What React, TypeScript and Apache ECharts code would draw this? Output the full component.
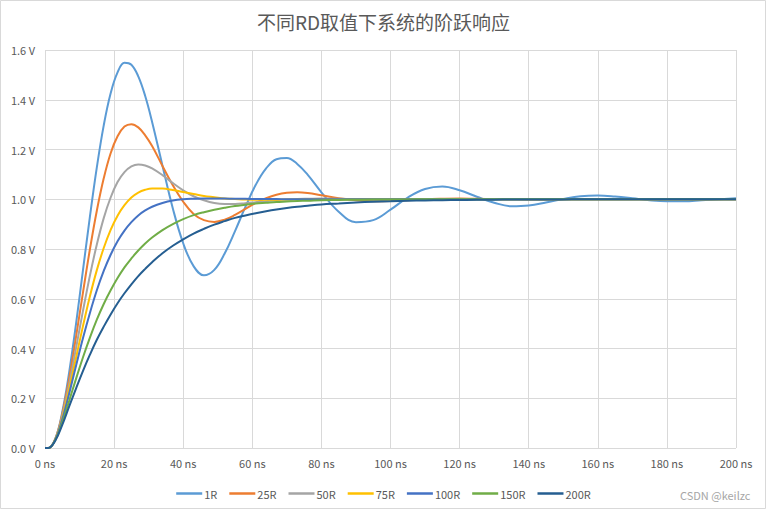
import React, { useEffect, useRef } from 'react';
import * as echarts from 'echarts';

const timesNs = [0, 1, 3, 5, 7, 9, 11, 13, 15, 17, 19, 21, 23, 25, 27, 29, 31, 34, 37, 40, 43, 46, 49, 52, 55, 58, 61, 64, 67, 70, 73, 76, 80, 85, 90, 95, 100, 105, 110, 115, 120, 125, 130, 135, 140, 145, 150, 155, 160, 165, 170, 175, 180, 185, 190, 195, 200];

const seriesNames = ['1R', '25R', '50R', '75R', '100R', '150R', '200R'];

const r1 = [0, 0, 0.038, 0.145, 0.305, 0.501, 0.716, 0.930, 1.128, 1.297, 1.426, 1.510, 1.549, 1.541, 1.494, 1.415, 1.311,
  1.135, 0.963, 0.823, 0.731, 0.694, 0.716, 0.782, 0.872, 0.969, 1.058, 1.124, 1.161, 1.166, 1.142, 1.099,
  1.028,
  0.950, 0.908, 0.916, 0.958, 1.007, 1.041, 1.051, 1.036, 1.010, 0.986, 0.972, 0.975, 0.987, 1.001, 1.012, 1.015, 1.011, 1.004, 0.996, 0.992, 0.992, 0.996, 1.000, 1.004];

const r25 = [0, 0, 0.037, 0.137, 0.280, 0.449, 0.626, 0.799, 0.954, 1.084, 1.185, 1.253, 1.292, 1.302, 1.289, 1.257, 1.214,
  1.134, 1.056, 0.990, 0.941, 0.916, 0.909, 0.918, 0.937, 0.961, 0.985, 1.004, 1.018, 1.026, 1.028, 1.025,
  1.016,
  1.004, 0.996, 0.992, 0.993, 0.996, 1.000, 1.002, 1.003, 1.002, 1.001, 1.000, 0.999, 0.999, 1.000, 1, 1, 1, 1, 1, 1, 1, 1, 1, 1];

const r50 = [0, 0, 0.036, 0.129, 0.257, 0.403, 0.552, 0.693, 0.818, 0.924, 1.007, 1.069, 1.109, 1.132, 1.140, 1.136, 1.124,
  1.097, 1.065, 1.036, 1.012, 0.996, 0.985, 0.981, 0.981, 0.984, 0.988, 0.992, 0.996, 0.999, 1.001, 1.002,
  1.003,
  1.002, 1.001, 1.000, 1.000, 1, 1, 1, 1, 1, 1, 1, 1, 1, 1, 1, 1, 1, 1, 1, 1, 1, 1, 1, 1];

const r75 = [0, 0, 0.035, 0.121, 0.237, 0.364, 0.491, 0.610, 0.715, 0.804, 0.877, 0.934, 0.976, 1.007, 1.027, 1.038, 1.043,
  1.043, 1.037, 1.029, 1.021, 1.013, 1.008, 1.003, 1.001, 0.999, 0.998, 0.998, 0.998, 0.999, 0.999, 0.999,
  1.000,
  1, 1, 1, 1, 1, 1, 1, 1, 1, 1, 1, 1, 1, 1, 1, 1, 1, 1, 1, 1, 1, 1, 1, 1];

const r100 = [0, 0, 0.034, 0.115, 0.219, 0.332, 0.442, 0.543, 0.634, 0.712, 0.777, 0.831, 0.874, 0.908, 0.935, 0.955, 0.970,
  0.985, 0.995, 1.000, 1.002, 1.003, 1.003, 1.003, 1.002, 1.002, 1.001, 1.001, 1.001, 1.000, 1.000, 1.000,
  1.000,
  1, 1, 1, 1, 1, 1, 1, 1, 1, 1, 1, 1, 1, 1, 1, 1, 1, 1, 1, 1, 1, 1, 1, 1];

const r150 = [0, 0, 0.032, 0.103, 0.190, 0.279, 0.365, 0.444, 0.516, 0.579, 0.634, 0.683, 0.726, 0.762, 0.794, 0.822, 0.846,
  0.876, 0.900, 0.920, 0.936, 0.948, 0.958, 0.966, 0.973, 0.978, 0.983, 0.986, 0.989, 0.991, 0.993, 0.994,
  0.996,
  0.997, 0.998, 0.999, 0.999, 0.999, 1, 1, 1, 1, 1, 1, 1, 1, 1, 1, 1, 1, 1, 1, 1, 1, 1, 1, 1];

const r200 = [0, 0, 0.030, 0.093, 0.167, 0.240, 0.310, 0.375, 0.435, 0.488, 0.537, 0.582, 0.622, 0.658, 0.691, 0.720, 0.747,
  0.783, 0.813, 0.839, 0.862, 0.881, 0.898, 0.912, 0.925, 0.935, 0.944, 0.952, 0.959, 0.965, 0.970, 0.974,
  0.979,
  0.983, 0.987, 0.990, 0.992, 0.994, 0.995, 0.996, 0.997, 0.998, 0.998, 0.999, 0.999, 0.999, 0.999, 1, 1, 1, 1, 1, 1, 1, 1, 1, 1];

const seriesColors = ['#5B9BD5', '#ED7D31', '#A5A5A5', '#FFC000', '#4472C4', '#70AD47', '#255E91'];

const FONT = '"Noto Sans CJK SC", "Noto Sans", sans-serif';

export default function App() {
  const ref = useRef<HTMLDivElement>(null);

  useEffect(() => {
    if (!ref.current) return;
    const chart = echarts.init(ref.current, null, { renderer: 'svg' });
    const allData = [r1, r25, r50, r75, r100, r150, r200];

    chart.setOption({
      animation: false,
      backgroundColor: '#ffffff',
      textStyle: { fontFamily: FONT },
      title: {
        text: '不同RD取值下系统的阶跃响应',
        left: 'center',
        top: 12,
        padding: 0,
        textStyle: { fontFamily: FONT, fontSize: 19, fontWeight: 'normal', color: '#595959' },
      },
      grid: { left: 45, right: 31, top: 50, bottom: 62, containLabel: false },
      xAxis: {
        type: 'value',
        min: 0,
        max: 200,
        interval: 20,
        axisLine: { show: false },
        axisTick: { show: false },
        axisLabel: {
          formatter: (v: number) => `${v} ns`,
          color: '#595959',
          fontSize: 11,
          margin: 9,
          fontFamily: FONT,
        },
        splitLine: { show: true, lineStyle: { color: '#d9d9d9', width: 1 } },
      },
      yAxis: {
        type: 'value',
        min: 0,
        max: 1.6,
        interval: 0.2,
        axisLine: { show: false },
        axisTick: { show: false },
        axisLabel: {
          formatter: (v: number) => `${v.toFixed(1)} V`,
          color: '#595959',
          fontSize: 11,
          margin: 10,
          fontFamily: FONT,
        },
        splitLine: { show: true, lineStyle: { color: '#d9d9d9', width: 1 } },
      },
      legend: {
        data: seriesNames,
        icon: 'rect',
        left: 'center',
        top: 483,
        itemWidth: 26,
        itemHeight: 2.5,
        itemGap: 12,
        textStyle: { color: '#595959', fontSize: 11, fontFamily: FONT, padding: [0, 0, 0, -3] },
      },
      graphic: [
        {
          type: 'rect',
          shape: { x: 0.5, y: 0.5, width: 765, height: 508 },
          style: { fill: 'none', stroke: '#d9d9d9', lineWidth: 1 },
          silent: true,
        },
        {
          type: 'text',
          left: 680,
          top: 489,
          style: { text: 'CSDN @keilzc', fill: '#a6a6a6', fontSize: 11, fontFamily: FONT },
          silent: true,
        },
      ],
      series: allData.map((d, i) => ({
        name: seriesNames[i],
        type: 'line',
        data: timesNs.map((t, j) => [t, d[j]]),
        symbol: 'none',
        smooth: 0.4,
        lineStyle: { width: 2, color: seriesColors[i] },
        itemStyle: { color: seriesColors[i] },
      })),
    });

    return () => chart.dispose();
  }, []);

  return (
    <div
      ref={ref}
      style={{ position: 'fixed', left: 0, top: 0, width: 767, height: 510, background: '#fff' }}
    />
  );
}
